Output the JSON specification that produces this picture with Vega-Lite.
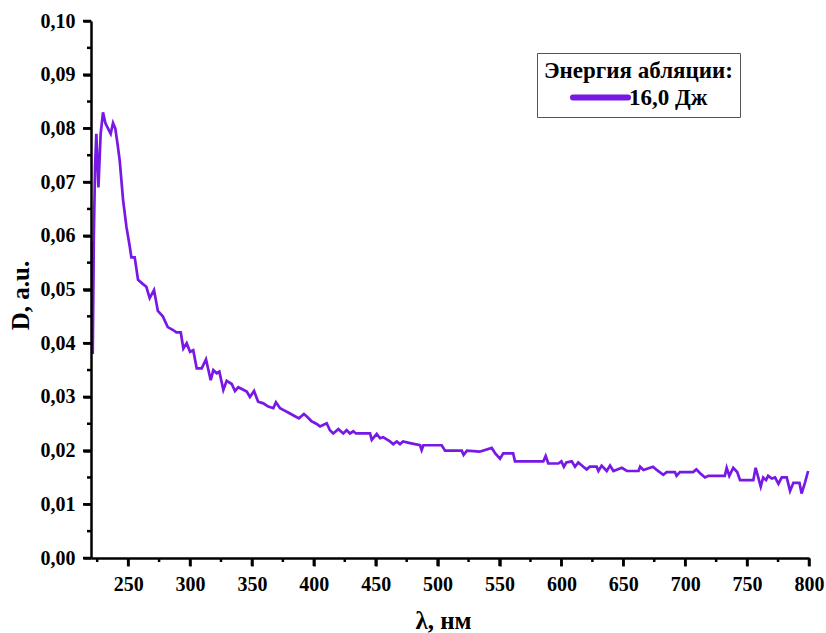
{
  "$schema": "https://vega.github.io/schema/vega-lite/v6.json",
  "autosize": {"type": "none"},
  "width": 718,
  "height": 537,
  "padding": {"left": 91, "top": 21, "right": 17, "bottom": 75},
  "background": "white",
  "config": {
    "view": {"stroke": null},
    "font": "Times New Roman, Liberation Serif, DejaVu Serif, serif",
    "axis": {
      "grid": false,
      "ticks": true,
      "tickColor": "black",
      "tickWidth": 2.5,
      "domainColor": "black",
      "domainWidth": 2.5,
      "labelFont": "Times New Roman, Liberation Serif, DejaVu Serif, serif",
      "labelFontWeight": "bold",
      "labelFontSize": 20,
      "labelColor": "black",
      "titleFont": "Times New Roman, Liberation Serif, DejaVu Serif, serif",
      "titleFontWeight": "bold",
      "titleFontSize": 25,
      "titleColor": "black"
    }
  },
  "layer": [
    {
      "data": {
        "values": [
          {"x": 220.8, "y": 0.059}, {"x": 221.4, "y": 0.038}, {"x": 222.3, "y": 0.060}, {"x": 223.3, "y": 0.073},
          {"x": 224.3, "y": 0.079}, {"x": 226.0, "y": 0.069}, {"x": 227.8, "y": 0.079}, {"x": 229.7, "y": 0.083},
          {"x": 231.6, "y": 0.081}, {"x": 233.7, "y": 0.080}, {"x": 235.9, "y": 0.079}, {"x": 237.8, "y": 0.081},
          {"x": 239.6, "y": 0.080}, {"x": 241.5, "y": 0.077}, {"x": 243.2, "y": 0.074}, {"x": 245.9, "y": 0.0667},
          {"x": 248.6, "y": 0.0617}, {"x": 251.3, "y": 0.058}, {"x": 252.6, "y": 0.056}, {"x": 255.3, "y": 0.056},
          {"x": 258.0, "y": 0.0518}, {"x": 262.0, "y": 0.051}, {"x": 264.7, "y": 0.0505}, {"x": 267.4, "y": 0.0484},
          {"x": 270.9, "y": 0.0499}, {"x": 274.0, "y": 0.046}, {"x": 278.0, "y": 0.045}, {"x": 282.0, "y": 0.043},
          {"x": 286.0, "y": 0.0425}, {"x": 289.0, "y": 0.042}, {"x": 292.5, "y": 0.042}, {"x": 294.6, "y": 0.039},
          {"x": 297.3, "y": 0.040}, {"x": 300.0, "y": 0.0384}, {"x": 302.6, "y": 0.0387}, {"x": 305.4, "y": 0.0353},
          {"x": 309.4, "y": 0.0353}, {"x": 312.9, "y": 0.037}, {"x": 316.7, "y": 0.0331}, {"x": 318.8, "y": 0.035},
          {"x": 321.5, "y": 0.0344}, {"x": 323.7, "y": 0.0347}, {"x": 326.9, "y": 0.0313}, {"x": 329.6, "y": 0.033},
          {"x": 333.7, "y": 0.0324}, {"x": 336.3, "y": 0.0311}, {"x": 339.0, "y": 0.0318}, {"x": 345.8, "y": 0.031},
          {"x": 348.4, "y": 0.030}, {"x": 351.7, "y": 0.0311}, {"x": 355.0, "y": 0.0291}, {"x": 359.2, "y": 0.0288},
          {"x": 363.2, "y": 0.0282}, {"x": 367.3, "y": 0.0279}, {"x": 369.4, "y": 0.029}, {"x": 372.7, "y": 0.0279},
          {"x": 376, "y": 0.0275}, {"x": 380, "y": 0.027}, {"x": 384, "y": 0.0265}, {"x": 388, "y": 0.026},
          {"x": 392, "y": 0.0268}, {"x": 395, "y": 0.0262}, {"x": 398, "y": 0.0255}, {"x": 402, "y": 0.025},
          {"x": 405, "y": 0.0245}, {"x": 410.4, "y": 0.0251}, {"x": 413, "y": 0.0238}, {"x": 415.7, "y": 0.0232},
          {"x": 419.8, "y": 0.024}, {"x": 423.8, "y": 0.0232}, {"x": 426.5, "y": 0.0238}, {"x": 429.2, "y": 0.0232},
          {"x": 431.9, "y": 0.0236}, {"x": 434, "y": 0.0232}, {"x": 445.4, "y": 0.0232}, {"x": 446.8, "y": 0.022},
          {"x": 450.8, "y": 0.0231}, {"x": 453.5, "y": 0.0223}, {"x": 456, "y": 0.0225}, {"x": 461.5, "y": 0.0217},
          {"x": 464.2, "y": 0.0212}, {"x": 467, "y": 0.0217}, {"x": 469.6, "y": 0.0212}, {"x": 472, "y": 0.0217},
          {"x": 477.7, "y": 0.0214}, {"x": 485.8, "y": 0.021}, {"x": 487.1, "y": 0.0201}, {"x": 488.5, "y": 0.021},
          {"x": 503.3, "y": 0.021}, {"x": 506, "y": 0.020}, {"x": 519.5, "y": 0.020}, {"x": 521, "y": 0.0192},
          {"x": 523.7, "y": 0.020}, {"x": 534, "y": 0.0198}, {"x": 543.7, "y": 0.0205}, {"x": 546.4, "y": 0.0195},
          {"x": 550.4, "y": 0.0185}, {"x": 553, "y": 0.0195}, {"x": 561, "y": 0.0195}, {"x": 562.5, "y": 0.018},
          {"x": 585.4, "y": 0.018}, {"x": 587.3, "y": 0.019}, {"x": 589.4, "y": 0.0176}, {"x": 597.5, "y": 0.0176},
          {"x": 600, "y": 0.018}, {"x": 602, "y": 0.017}, {"x": 604, "y": 0.0178}, {"x": 608.3, "y": 0.018},
          {"x": 611, "y": 0.017}, {"x": 613.6, "y": 0.0178}, {"x": 617.7, "y": 0.017}, {"x": 620.4, "y": 0.0165},
          {"x": 623, "y": 0.017}, {"x": 628.5, "y": 0.017}, {"x": 629.9, "y": 0.0162}, {"x": 632.5, "y": 0.0172},
          {"x": 636.6, "y": 0.0162}, {"x": 639.3, "y": 0.0172}, {"x": 642, "y": 0.0162}, {"x": 648.8, "y": 0.0168},
          {"x": 652.9, "y": 0.0162}, {"x": 662.3, "y": 0.0162}, {"x": 663.6, "y": 0.017}, {"x": 666.3, "y": 0.0164},
          {"x": 674, "y": 0.017}, {"x": 677, "y": 0.0164}, {"x": 682.3, "y": 0.0155}, {"x": 685, "y": 0.016},
          {"x": 691.7, "y": 0.016}, {"x": 693, "y": 0.0153}, {"x": 695.7, "y": 0.016}, {"x": 706.4, "y": 0.016},
          {"x": 709, "y": 0.0165}, {"x": 712, "y": 0.0158}, {"x": 716, "y": 0.015}, {"x": 718.7, "y": 0.0153},
          {"x": 732, "y": 0.0153}, {"x": 733.5, "y": 0.0168}, {"x": 735.6, "y": 0.0153}, {"x": 738.8, "y": 0.0168},
          {"x": 742, "y": 0.016}, {"x": 744.3, "y": 0.0145}, {"x": 755, "y": 0.0145}, {"x": 756.9, "y": 0.0168},
          {"x": 759, "y": 0.015}, {"x": 761, "y": 0.0133}, {"x": 763, "y": 0.015}, {"x": 765.3, "y": 0.0145},
          {"x": 767, "y": 0.0153}, {"x": 770, "y": 0.0148}, {"x": 772.6, "y": 0.015}, {"x": 775.3, "y": 0.0138},
          {"x": 778, "y": 0.015}, {"x": 782, "y": 0.015}, {"x": 784.7, "y": 0.0125}, {"x": 787.4, "y": 0.014},
          {"x": 792.3, "y": 0.014}, {"x": 794, "y": 0.012}, {"x": 796.7, "y": 0.014}, {"x": 799.3, "y": 0.0162}
        ]
      },
      "mark": {"type": "line", "strokeWidth": 2.7, "interpolate": "linear"},
      "encoding": {
        "x": {
          "field": "x",
          "type": "quantitative",
          "scale": {"domain": [220, 800], "nice": false, "zero": false},
          "axis": {
            "orient": "bottom",
            "title": "λ, нм",
            "ticks": true,
            "zindex": 1,
            "values": [250, 300, 350, 400, 450, 500, 550, 600, 650, 700, 750, 800],
            "tickSize": 8,
            "labelPadding": 8,
            "labelFlush": false,
            "labelOverlap": false,
            "titleX": 352,
            "titleY": 62,
            "titleBaseline": "middle"
          }
        },
        "y": {
          "field": "y",
          "type": "quantitative",
          "scale": {"domain": [0, 0.1], "nice": false},
          "axis": {
            "orient": "left",
            "title": "D, a.u.",
            "ticks": true,
            "zindex": 1,
            "values": [0, 0.01, 0.02, 0.03, 0.04, 0.05, 0.06, 0.07, 0.08, 0.09, 0.1],
            "labelExpr": "replace(format(datum.value, '.2f'), '.', ',')",
            "tickSize": 8,
            "labelPadding": 8,
            "labelFlush": false,
            "labelOverlap": false,
            "titleX": -71,
            "titleY": 274,
            "titleBaseline": "middle"
          }
        },
        "color": {
          "datum": "16,0 Дж",
          "type": "nominal",
          "scale": {"range": ["#7818E4"]},
          "legend": {
            "title": "Энергия абляции:",
            "orient": "none",
            "legendX": 446,
            "legendY": 32,
            "titleFont": "Times New Roman, Liberation Serif, DejaVu Serif, serif",
            "titleFontWeight": "bold",
            "titleFontSize": 23,
            "titleColor": "black",
            "titleLimit": 400,
            "labelLimit": 300,
            "labelFont": "Times New Roman, Liberation Serif, DejaVu Serif, serif",
            "labelFontWeight": "bold",
            "labelFontSize": 23,
            "labelColor": "black",
            "symbolType": "M-5,0H5",
            "symbolSize": 121,
            "symbolStrokeWidth": 6,
            "symbolOffset": 45,
            "labelOffset": 17,
            "padding": 7,
            "titlePadding": 3,
            "strokeColor": "#555",
            "fillColor": "white",
            "encode": {"symbols": {"update": {"strokeCap": {"value": "round"}}}}
          }
        }
      }
    },
    {
      "data": {"values": [{"v": 225}, {"v": 275}, {"v": 325}, {"v": 375}, {"v": 425}, {"v": 475}, {"v": 525}, {"v": 575}, {"v": 625}, {"v": 675}, {"v": 725}, {"v": 775}]},
      "mark": {"type": "tick", "color": "black", "orient": "vertical", "size": 4, "thickness": 2.5, "opacity": 1, "clip": false},
      "encoding": {
        "x": {"field": "v", "type": "quantitative"},
        "y": {"datum": -0.000375, "type": "quantitative"}
      }
    },
    {
      "data": {"values": [{"v": 250}, {"v": 300}, {"v": 350}, {"v": 400}, {"v": 450}, {"v": 500}, {"v": 550}, {"v": 600}, {"v": 650}, {"v": 700}, {"v": 750}, {"v": 800}]},
      "mark": {"type": "tick", "color": "black", "orient": "vertical", "size": 8, "thickness": 2.5, "opacity": 1, "clip": false},
      "encoding": {
        "x": {"field": "v", "type": "quantitative"},
        "y": {"datum": -0.00075, "type": "quantitative"}
      }
    },
    {
      "data": {"values": [{"v": 0.005}, {"v": 0.015}, {"v": 0.025}, {"v": 0.035}, {"v": 0.045}, {"v": 0.055}, {"v": 0.065}, {"v": 0.075}, {"v": 0.085}, {"v": 0.095}]},
      "mark": {"type": "tick", "color": "black", "orient": "horizontal", "size": 4, "thickness": 2.5, "opacity": 1, "clip": false},
      "encoding": {
        "y": {"field": "v", "type": "quantitative"},
        "x": {"datum": 218.38, "type": "quantitative"}
      }
    },
    {
      "data": {"values": [{"v": 0}, {"v": 0.01}, {"v": 0.02}, {"v": 0.03}, {"v": 0.04}, {"v": 0.05}, {"v": 0.06}, {"v": 0.07}, {"v": 0.08}, {"v": 0.09}, {"v": 0.1}]},
      "mark": {"type": "tick", "color": "black", "orient": "horizontal", "size": 8, "thickness": 2.5, "opacity": 1, "clip": false},
      "encoding": {
        "y": {"field": "v", "type": "quantitative"},
        "x": {"datum": 216.77, "type": "quantitative"}
      }
    }
  ]
}
